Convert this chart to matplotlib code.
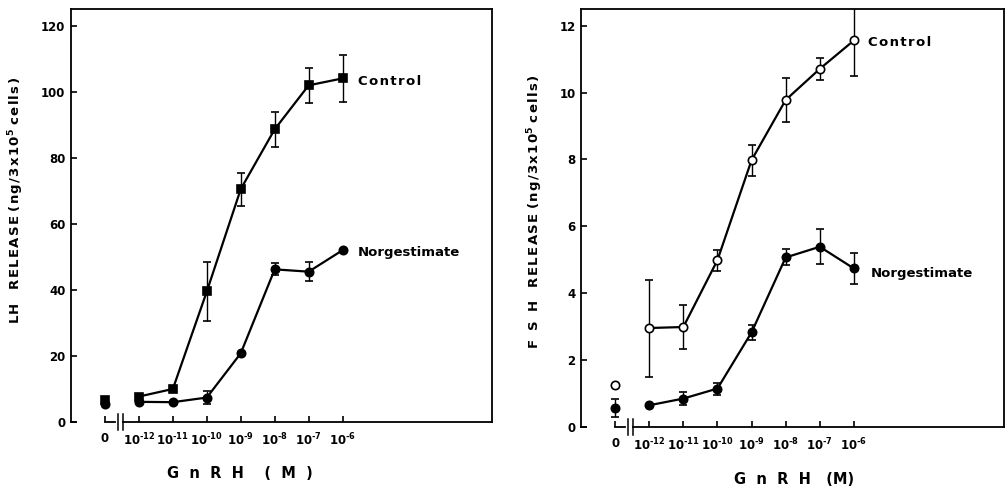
import matplotlib
matplotlib.use("Agg")
import matplotlib.pyplot as plt

plt.rcParams["font.family"] = "DejaVu Sans"
plt.rcParams["font.weight"] = "bold"
plt.rcParams["mathtext.fontset"] = "custom"
plt.rcParams["mathtext.rm"] = "DejaVu Sans:bold"
plt.rcParams["mathtext.bf"] = "DejaVu Sans:bold"
plt.rcParams["mathtext.default"] = "rm"

# GnRH dose: 0 is drawn one step left of 10^-12, behind an axis break
exponents = [-13, -12, -11, -10, -9, -8, -7, -6]
dose_labels = ["0", "10$^{\u201012}$", "10$^{\u201011}$", "10$^{\u201010}$", "10$^{\u20109}$",
               "10$^{\u20108}$", "10$^{\u20107}$", "10$^{\u20106}$"]

# LH release (ng/3x10^5 cells), mean and SE
lh_control = [6.6, 7.7, 10.0, 39.5, 70.5, 88.6, 101.9, 104.0]
lh_control_se = [0, 0, 0, 9.0, 5.0, 5.3, 5.3, 7.0]
lh_norg = [5.3, 6.1, 6.0, 7.4, 20.8, 46.2, 45.5, 52.0]
lh_norg_se = [0, 0, 0, 2.0, 0, 1.8, 2.8, 0]

# FSH release (ng/3x10^5 cells), mean and SE
fsh_control = [1.25, 2.96, 2.99, 4.99, 7.98, 9.78, 10.71, 11.56]
fsh_control_se = [0, 1.45, 0.66, 0.31, 0.46, 0.66, 0.33, 1.05]
fsh_norg = [0.58, 0.65, 0.85, 1.15, 2.83, 5.07, 5.39, 4.74]
fsh_norg_se = [0.27, 0, 0.2, 0.18, 0.22, 0.24, 0.52, 0.47]

W, H = 1006, 488
fig = plt.figure(figsize=(W / 100, H / 100), dpi=100)


def px_axes(left, top, right, bottom):
    return fig.add_axes([left / W, 1 - bottom / H, (right - left) / W, (bottom - top) / H])


def spaced(s):
    # widen the lettering a little with hair spaces
    return "\u200a".join(s)


def draw_series(ax, y, se, marker, face):
    kw = dict(color="black", marker=marker, markersize=6, markerfacecolor=face,
              markeredgecolor="black", markeredgewidth=1.2, ecolor="black",
              elinewidth=1.0, capsize=3, capthick=1.0, zorder=3)
    ax.errorbar(exponents[1:], y[1:], yerr=se[1:], lw=1.6, **kw)
    ax.errorbar(exponents[:1], y[:1], yerr=se[:1], ls="none", **kw)


def style_panel(ax, ymax, yticks):
    ax.set_xlim(-14, -1.6)
    ax.set_ylim(0, ymax)
    ax.set_yticks(yticks)
    ax.set_xticks(exponents)
    ax.set_xticklabels(dose_labels)
    ax.tick_params(direction="in", length=4, width=1.2, labelsize=8.5, pad=7)
    ax.tick_params(axis="y", pad=4)
    for s in ax.spines.values():
        s.set_linewidth(1.3)
    ax.spines["bottom"].set_bounds(-12.48, -1.6)
    # axis break drawn by hand below the zero dose
    tr = ax.get_xaxis_transform()
    ax.plot([-14, -13.85], [0, 0], color="black", lw=1.3, transform=tr, clip_on=False)
    ax.plot([-13, -12.7], [0, 0], color="black", lw=1.3, transform=tr, clip_on=False)
    for xb in (-12.62, -12.48):
        ax.plot([xb, xb], [-0.02, 0.02], color="black", lw=1.1, transform=tr, clip_on=False)


# LH panel
ax1 = px_axes(71, 9, 492, 422)
draw_series(ax1, lh_control, lh_control_se, "s", "black")
draw_series(ax1, lh_norg, lh_norg_se, "o", "black")
style_panel(ax1, 125, range(0, 121, 20))
ax1.text(-5.55, 103, spaced("Control"), fontsize=9.5, va="center", ha="left")
ax1.text(-5.55, 51.2, "Norgestimate", fontsize=9.5, va="center", ha="left")
fig.text(16 / W, 1 - 200 / H,
         spaced("LH") + "   " + spaced("RELEASE") + " " + spaced("(ng/3x10") + "$^{5}$ " + spaced("cells)"),
         rotation=90, fontsize=9.5, ha="center", va="center")
fig.text(240 / W, 1 - 473 / H, "G  n  R  H    (  M  )", fontsize=10.5,
         ha="center", va="center")

# FSH panel
ax2 = px_axes(581, 9, 1004, 427)
draw_series(ax2, fsh_control, fsh_control_se, "o", "white")
draw_series(ax2, fsh_norg, fsh_norg_se, "o", "black")
style_panel(ax2, 12.5, range(0, 13, 2))
ax2.text(-5.6, 11.49, spaced("Control"), fontsize=9.5, va="center", ha="left")
ax2.text(-5.5, 4.6, "Norgestimate", fontsize=9.5, va="center", ha="left")
fig.text(535 / W, 1 - 212 / H,
         "F  S  H   " + spaced("RELEASE") + " " + spaced("(ng/3x10") + "$^{5}$ " + spaced("cells)"),
         rotation=90, fontsize=9.5, ha="center", va="center")
fig.text(794 / W, 1 - 480 / H, "G  n  R  H   (M)", fontsize=10.5,
         ha="center", va="center")

fig.savefig("out.png", dpi=100)
